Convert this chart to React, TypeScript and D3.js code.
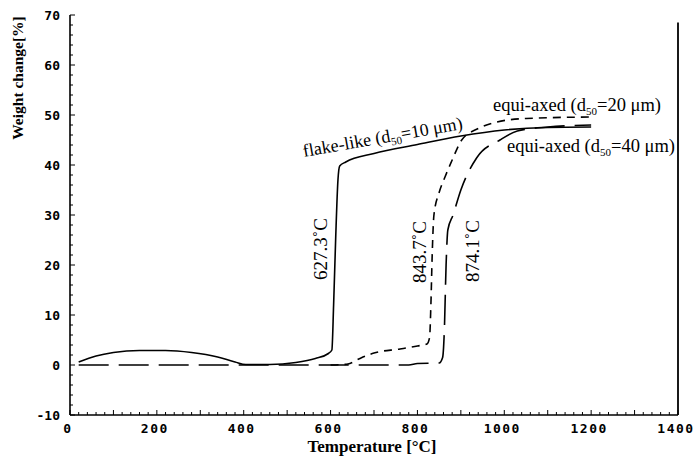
import * as d3 from "d3";
import { useEffect, useRef } from "react";

// temperature [°C] / weight change [%]
const flakeTemp = [20, 60, 100, 160, 220, 280, 340, 380, 405, 460, 520, 565, 595, 603, 607, 612, 617, 621, 635, 700, 800, 900, 1000, 1100, 1200];
const flakeGain = [0.6, 1.8, 2.5, 2.9, 2.9, 2.5, 1.6, 0.6, 0.1, 0.1, 0.5, 1.3, 2.3, 3, 12, 26, 37, 39.8, 40.6, 42.3, 44.1, 45.8, 47, 47.5, 47.6];

const equi20Temp = [600, 640, 665, 700, 760, 800, 822, 828, 831, 834, 838, 850, 863, 880, 902, 940, 983, 1050, 1200];
const equi20Gain = [0, 0.2, 1.2, 2.4, 3.2, 3.8, 4.2, 5.5, 12, 22, 30, 34.5, 37.5, 41, 45, 47.3, 48.6, 49.3, 49.6];

const equi40Temp = [20, 780, 800, 850, 858, 862, 866, 870, 882, 900, 937, 990, 1030, 1100, 1200];
const equi40Gain = [0, 0, 0.3, 0.4, 1.5, 7, 20, 27, 30, 35, 41.5, 45, 46.8, 47.6, 48];

const xTicks = [0, 200, 400, 600, 800, 1000, 1200, 1400];
const yTicks = [-10, 0, 10, 20, 30, 40, 50, 60, 70];

const W = 696;
const H = 459;
const margin = { left: 70, right: 18, top: 15, bottom: 44 };

function TgaChart() {
  const ref = useRef<SVGSVGElement>(null);

  useEffect(() => {
    const svg = d3.select(ref.current);
    svg.selectAll("*").remove();

    const x = d3.scaleLinear().domain([0, 1400]).range([margin.left, W - margin.right]);
    const y = d3.scaleLinear().domain([-10, 70]).range([H - margin.bottom, margin.top]);

    const mono = "'DejaVu Sans Mono', monospace";
    const serif = "'Liberation Serif', 'Times New Roman', serif";

    // frame: left, bottom, right
    const g = svg.append("g").attr("stroke", "#000").attr("fill", "none");
    g.append("line").attr("x1", x(0)).attr("x2", x(0)).attr("y1", y(70)).attr("y2", y(-10)).attr("stroke-width", 1.6);
    g.append("line").attr("x1", x(0)).attr("x2", x(1400)).attr("y1", y(-10)).attr("y2", y(-10)).attr("stroke-width", 1.4);
    g.append("line").attr("x1", x(1400)).attr("x2", x(1400)).attr("y1", y(68.5)).attr("y2", y(-10)).attr("stroke-width", 1.8);

    // minor / major ticks, inside
    g.selectAll(".ym")
      .data(d3.range(-10, 70.1, 2))
      .join("line")
      .attr("x1", x(0))
      .attr("x2", (d) => x(0) + (d % 10 === 0 ? 5 : 3))
      .attr("y1", (d) => y(d))
      .attr("y2", (d) => y(d))
      .attr("stroke-width", 1);
    g.selectAll(".xm")
      .data(d3.range(0, 1400.1, 20))
      .join("line")
      .attr("x1", (d) => x(d))
      .attr("x2", (d) => x(d))
      .attr("y1", y(-10))
      .attr("y2", (d) => y(-10) - (d % 100 === 0 ? 5 : 3))
      .attr("stroke-width", 1);

    // tick labels
    svg.append("g")
      .selectAll("text")
      .data(yTicks)
      .join("text")
      .attr("x", x(0) - 10)
      .attr("y", (d) => y(d) + 5)
      .attr("text-anchor", "end")
      .attr("font-family", mono)
      .attr("font-weight", "bold")
      .attr("font-size", 13)
      .text((d) => String(d));
    svg.append("g")
      .selectAll("text")
      .data(xTicks)
      .join("text")
      .attr("x", (d) => x(d) - 2)
      .attr("y", y(-10) + 18)
      .attr("text-anchor", "middle")
      .attr("font-family", mono)
      .attr("font-weight", "bold")
      .attr("font-size", 13)
      .attr("letter-spacing", 1.5)
      .text((d) => String(d));

    // axis titles
    svg.append("text")
      .attr("x", 372)
      .attr("y", 452)
      .attr("text-anchor", "middle")
      .attr("font-family", serif)
      .attr("font-weight", "bold")
      .attr("font-size", 17)
      .text("Temperature [°C]");
    svg.append("text")
      .attr("transform", "translate(23,78) rotate(-90)")
      .attr("text-anchor", "middle")
      .attr("font-family", serif)
      .attr("font-weight", "bold")
      .attr("font-size", 15.5)
      .text("Weight change[%]");

    // curves
    const line = d3
      .line<[number, number]>()
      .x((d) => x(d[0]))
      .y((d) => y(d[1]))
      .curve(d3.curveMonotoneX);

    const series = [
      { t: flakeTemp, v: flakeGain, dash: null },
      { t: equi20Temp, v: equi20Gain, dash: "8,6" },
      { t: equi40Temp, v: equi40Gain, dash: "30,10" },
    ];
    svg.append("g")
      .selectAll("path")
      .data(series)
      .join("path")
      .attr("fill", "none")
      .attr("stroke", "#000")
      .attr("stroke-width", 1.6)
      .attr("stroke-dasharray", (d) => d.dash)
      .attr("d", (d) => line(d.t.map((t, i) => [t, d.v[i]] as [number, number])));

    // annotations
    const note = (tx: number, ty: number, rot: number, anchor: string, size: number, parts: [string, boolean][]) => {
      const t = svg.append("text")
        .attr("transform", `translate(${tx},${ty}) rotate(${rot})`)
        .attr("text-anchor", anchor)
        .attr("font-family", serif)
        .attr("font-size", size);
      parts.forEach(([s, sub], i) => {
        const prevSub = i > 0 && parts[i - 1][1];
        t.append("tspan")
          .attr("font-size", sub ? 11 : size)
          .attr("dy", sub ? 4 : prevSub ? -4 : 0)
          .text(s);
      });
    };
    note(304, 157, -10, "start", 18, [["flake-like (d", false], ["50", true], ["=10 μm)", false]]);
    note(493, 111, 0, "start", 18.5, [["equi-axed (d", false], ["50", true], ["=20 μm)", false]]);
    note(507, 152, 0, "start", 18.5, [["equi-axed (d", false], ["50", true], ["=40 μm)", false]]);
    note(327, 249, -90, "middle", 19, [["627.3˚C", false]]);
    note(426, 252, -90, "middle", 19, [["843.7˚C", false]]);
    note(479, 251, -90, "middle", 19, [["874.1˚C", false]]);
  }, []);

  return (
    <svg
      ref={ref}
      width={W}
      height={H}
      viewBox={`0 0 ${W} ${H}`}
      style={{ position: "absolute", left: 0, top: 0, background: "#fff" }}
    />
  );
}

export default function App() {
  return <TgaChart />;
}
